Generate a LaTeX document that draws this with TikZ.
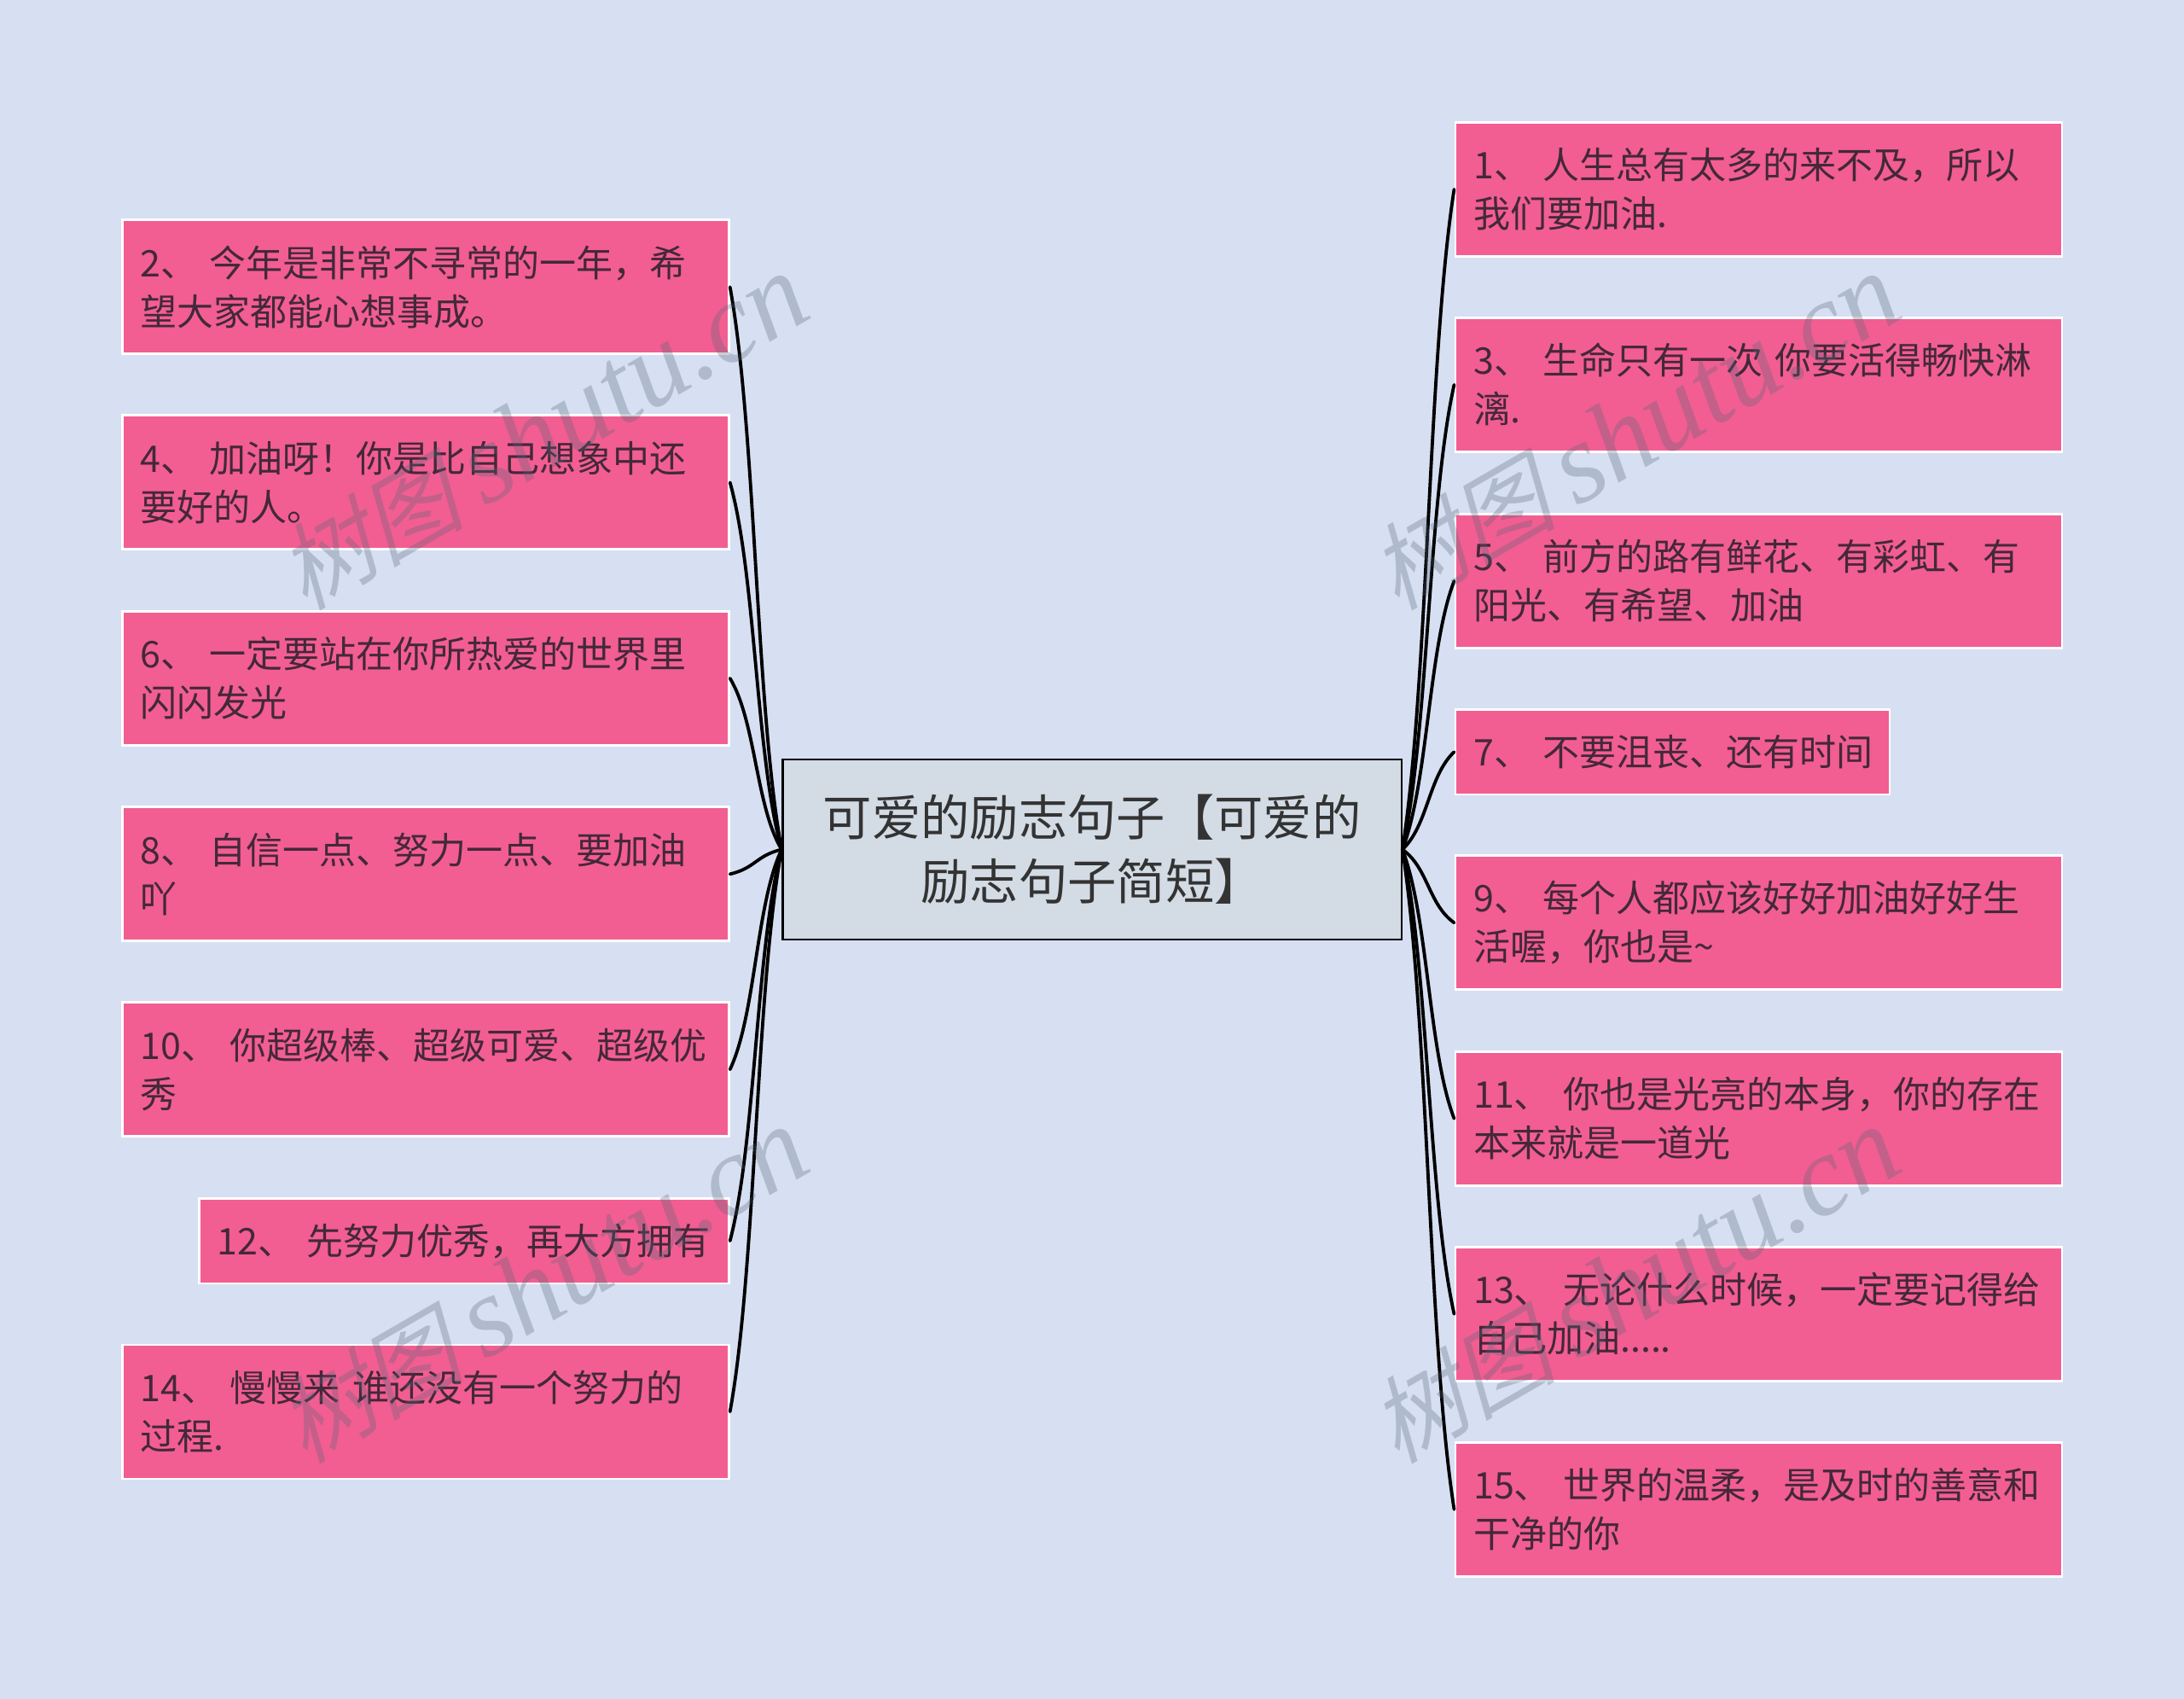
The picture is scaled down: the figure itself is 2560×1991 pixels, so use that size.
\documentclass[tikz,border=0pt]{standalone}
\usepackage{fontspec}
\setmainfont{Noto Sans CJK SC}
\newfontfamily\markcjk[FakeSlant=0.25]{Noto Sans CJK SC}
\newfontfamily\marklatin{Liberation Serif}[ItalicFont=* Italic]
\usepackage{xcolor}
\usetikzlibrary{calc,positioning}
\definecolor{pagebg}{HTML}{D7DFF2}
\definecolor{leafpink}{HTML}{F25E91}
\definecolor{leafink}{HTML}{43283A}
\definecolor{rootfill}{HTML}{D3DBE5}
\definecolor{rootink}{HTML}{333333}
\definecolor{markgrey}{HTML}{55657A}
\tikzset{
    leaf/.style={draw=white,line width=.8pt,fill=leafpink,text=leafink,anchor=north west,
        font=\fontsize{12.9}{17.1}\selectfont,align=left,inner xsep=6.4pt,inner ysep=0pt,
        text width=#1-12.8pt,minimum height=47.1pt},
    leaf/.default=213.3pt,
    shortleaf/.style={leaf=#1,minimum height=29.9pt},
    rootbox/.style={draw=black,line width=.7pt,fill=rootfill,text=rootink,align=center,
        font=\fontsize{17.2}{22.5}\selectfont,minimum width=217.6pt,minimum height=63.2pt,inner sep=0pt},
    branchline/.style={draw=black,line width=1.15pt,line cap=round},
    wmark/.style={text=markgrey,text opacity=.3,rotate=30,inner sep=0pt}
}
\newcommand{\branch}[2]{
    \coordinate (mid) at ($(#1)!.5!(#2)$);
    \coordinate (q1) at ($(#1)!.25!(#2)$);
    \coordinate (q3) at ($(#1)!.75!(#2)$);
    \coordinate (c1) at (mid |- q1);
    \coordinate (c2) at (mid |- q3);
    \draw[branchline] (#1) .. controls (c1) and (c2) .. (#2);
}
\newcommand{\wmtext}{{\fontsize{33}{33}\selectfont\markcjk 树图}\hspace{7pt}{\fontsize{40}{40}\selectfont\marklatin\itshape shutu.cn}}
\begin{document}
\begin{tikzpicture}[x=.3pt,y=-.3pt]
    \fill[pagebg] (0,0) rectangle (2560,1991);

    \node[rootbox] (root) at (1280,995.5) {可爱的励志句子【可爱的\\励志句子简短】};

    \node[leaf] (l2) at (142,256.5) {2、 今年是非常不寻常的一年，希\\望大家都能心想事成。};
    \node[leaf] (l4) at (142,485.5) {4、 加油呀！你是比自己想象中还\\要好的人。};
    \node[leaf] (l6) at (142,715) {6、 一定要站在你所热爱的世界里\\闪闪发光};
    \node[leaf] (l8) at (142,944.5) {8、 自信一点、努力一点、要加油\\吖};
    \node[leaf] (l10) at (142,1173.5) {10、 你超级棒、超级可爱、超级优\\秀};
    \node[shortleaf=186.3pt] (l12) at (232,1403) {12、 先努力优秀，再大方拥有};
    \node[leaf] (l14) at (142,1574.5) {14、 慢慢来 谁还没有一个努力的\\过程.};

    \node[leaf] (r1) at (1704.5,142) {1、 人生总有太多的来不及，所以\\我们要加油.};
    \node[leaf] (r3) at (1704.5,371) {3、 生命只有一次 你要活得畅快淋\\漓.};
    \node[leaf] (r5) at (1704.5,601) {5、 前方的路有鲜花、有彩虹、有\\阳光、有希望、加油};
    \node[shortleaf=152.7pt] (r7) at (1704.5,830) {7、~不要沮丧、还有时间};
    \node[leaf] (r9) at (1704.5,1001.5) {9、 每个人都应该好好加油好好生\\活喔，你也是\textasciitilde};
    \node[leaf] (r11) at (1704.5,1231) {11、 你也是光亮的本身，你的存在\\本来就是一道光};
    \node[leaf] (r13) at (1704.5,1460) {13、 无论什么时候，一定要记得给\\自己加油.....};
    \node[leaf] (r15) at (1704.5,1689) {15、 世界的温柔，是及时的善意和\\干净的你};

    \foreach \name in {l2,l4,l6,l8,l10,l12,l14}{
        \branch{root.west}{\name.east}
    }
    \foreach \name in {r1,r3,r5,r7,r9,r11,r13,r15}{
        \branch{root.east}{\name.west}
    }

    \node[wmark] (mark1) at (636,507) {\wmtext};
    \node[wmark] (mark2) at (1916,507) {\wmtext};
    \node[wmark] (mark3) at (636,1507) {\wmtext};
    \node[wmark] (mark4) at (1916,1507) {\wmtext};
\end{tikzpicture}
\end{document}
